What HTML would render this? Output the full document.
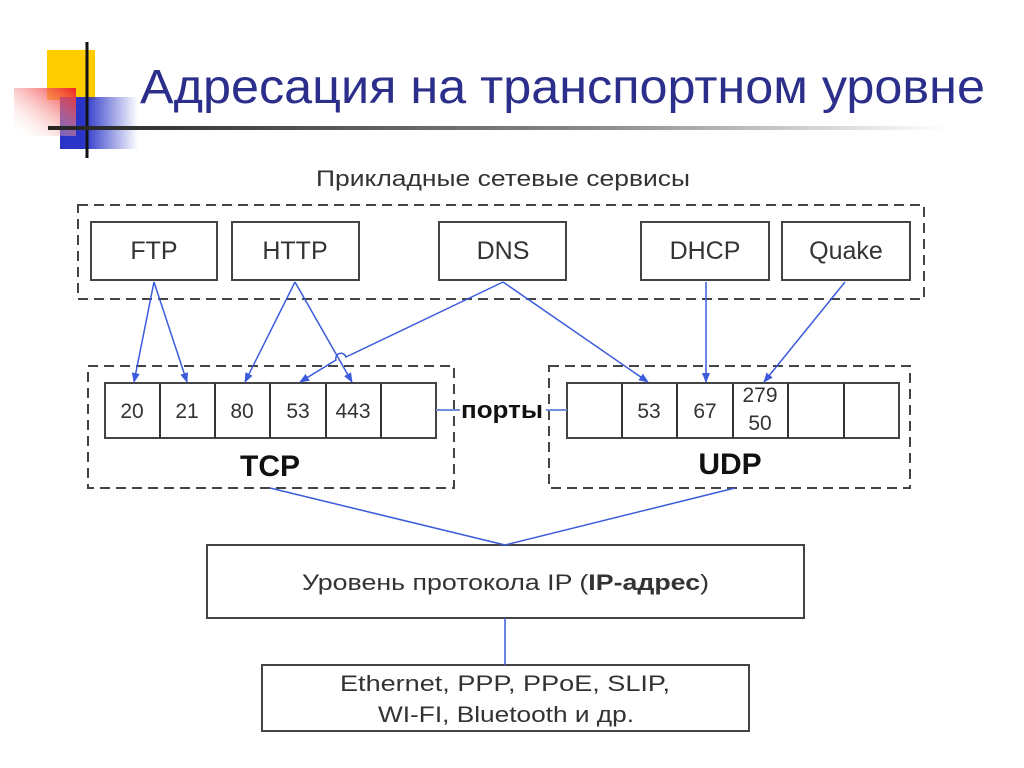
<!DOCTYPE html>
<html><head><meta charset="utf-8"><style>
html,body{margin:0;padding:0;background:#fff;}
svg{display:block;font-family:"Liberation Sans",Arial,sans-serif;}
</style></head><body>
<svg width="1024" height="768" viewBox="0 0 1024 768" xmlns="http://www.w3.org/2000/svg">
<defs>
<linearGradient id="red" x1="1" y1="0" x2="0" y2="1"><stop offset="0" stop-color="#ee2222"/><stop offset="1" stop-color="#ffffff" stop-opacity="0"/></linearGradient>
<linearGradient id="blue" x1="0" y1="0" x2="1" y2="0"><stop offset="0.3" stop-color="#2a35c8"/><stop offset="1" stop-color="#2a35c8" stop-opacity="0"/></linearGradient>
<linearGradient id="hl" x1="0" y1="0" x2="1" y2="0"><stop offset="0" stop-color="#222"/><stop offset="0.6" stop-color="#888"/><stop offset="1" stop-color="#fff"/></linearGradient>
<marker id="a" markerWidth="10" markerHeight="10" refX="9" refY="5" orient="auto" markerUnits="userSpaceOnUse"><path d="M0,1 L10,5 L0,9 z" fill="#3b5bdb"/></marker>
</defs>
<rect x="47" y="50" width="48" height="50" fill="#ffcc00"/>
<rect x="60" y="97" width="78" height="52" fill="url(#blue)"/>
<rect x="14" y="88" width="62" height="48" fill="url(#red)"/>
<line x1="87" y1="42" x2="87" y2="158" stroke="#111" stroke-width="3"/>
<rect x="48" y="126" width="900" height="4" fill="url(#hl)"/>
<text x="140" y="103" font-size="48" fill="#2b2e8a" textLength="845" lengthAdjust="spacingAndGlyphs">Адресация на транспортном уровне</text>

<text x="316" y="186" font-size="22" fill="#333" textLength="374" lengthAdjust="spacingAndGlyphs">Прикладные сетевые сервисы</text>
<g fill="none" stroke="#444" stroke-width="2" stroke-dasharray="10,6">
<rect x="78" y="205" width="846" height="94"/>
<rect x="88" y="366" width="366" height="122"/>
<rect x="549" y="366" width="361" height="122"/>
</g>
<g fill="#fff" stroke="#444" stroke-width="2">
<rect x="91" y="222" width="126" height="58"/>
<rect x="232" y="222" width="127" height="58"/>
<rect x="439" y="222" width="127" height="58"/>
<rect x="641" y="222" width="128" height="58"/>
<rect x="782" y="222" width="128" height="58"/>
<rect x="105" y="383" width="331" height="55"/>
<rect x="567" y="383" width="332" height="55"/>
<rect x="207" y="545" width="597" height="73"/>
<rect x="262" y="665" width="487" height="66"/>
</g>
<g stroke="#333" stroke-width="2">
<line x1="160" y1="383" x2="160" y2="438"/><line x1="215" y1="383" x2="215" y2="438"/><line x1="270" y1="383" x2="270" y2="438"/><line x1="326" y1="383" x2="326" y2="438"/><line x1="381" y1="383" x2="381" y2="438"/>
<line x1="622" y1="383" x2="622" y2="438"/><line x1="677" y1="383" x2="677" y2="438"/><line x1="733" y1="383" x2="733" y2="438"/><line x1="788" y1="383" x2="788" y2="438"/><line x1="844" y1="383" x2="844" y2="438"/>
</g>
<g font-size="25" fill="#333" text-anchor="middle">
<text x="154" y="259">FTP</text><text x="295" y="259">HTTP</text><text x="503" y="259">DNS</text><text x="705" y="259">DHCP</text><text x="846" y="259">Quake</text>
</g>
<g font-size="21" fill="#333" text-anchor="middle">
<text x="132" y="418">20</text><text x="187" y="418">21</text><text x="242" y="418">80</text><text x="298" y="418">53</text><text x="353" y="418">443</text>
<text x="649" y="418">53</text><text x="705" y="418">67</text><text x="760" y="402">279</text><text x="760" y="430">50</text>
</g>
<g stroke="#6f8fd8" stroke-width="2">
<line x1="436" y1="410" x2="460" y2="410"/><line x1="546" y1="410" x2="567" y2="410"/>
</g>
<text x="461" y="418" font-size="24" font-weight="bold" fill="#111" textLength="82" lengthAdjust="spacingAndGlyphs">порты</text>
<text x="270" y="476" font-size="30" font-weight="bold" text-anchor="middle" fill="#111">TCP</text>
<text x="730" y="474" font-size="30" font-weight="bold" text-anchor="middle" fill="#111">UDP</text>
<g stroke="#3b5bdb" stroke-width="1.5" fill="none" marker-end="url(#a)">
<line x1="154" y1="282" x2="134" y2="382"/>
<line x1="154" y1="282" x2="187" y2="382"/>
<line x1="295" y1="282" x2="245" y2="382"/>
<line x1="295" y1="282" x2="352" y2="382"/>
<path d="M503,282 L346,357 A5,5 0 0 0 336,360 L300,382"/>
<line x1="503" y1="282" x2="648" y2="382"/>
<line x1="706" y1="282" x2="706" y2="382"/>
<line x1="845" y1="282" x2="764" y2="382"/>
</g>
<g stroke="#3b5bdb" stroke-width="1.5">
<line x1="270" y1="488" x2="505" y2="545"/><line x1="735" y1="488" x2="505" y2="545"/>
<line x1="505" y1="618" x2="505" y2="665"/>
</g>
<text x="302" y="590" font-size="22" fill="#333" textLength="407" lengthAdjust="spacingAndGlyphs">Уровень протокола IP (<tspan font-weight="bold">IP-адрес</tspan>)</text>
<text x="340" y="691" font-size="22" fill="#333" textLength="330" lengthAdjust="spacingAndGlyphs">Ethernet, PPP, PPoE, SLIP,</text>
<text x="378" y="722" font-size="22" fill="#333" textLength="256" lengthAdjust="spacingAndGlyphs">WI-FI, Bluetooth и др.</text>
</svg>
</body></html>
